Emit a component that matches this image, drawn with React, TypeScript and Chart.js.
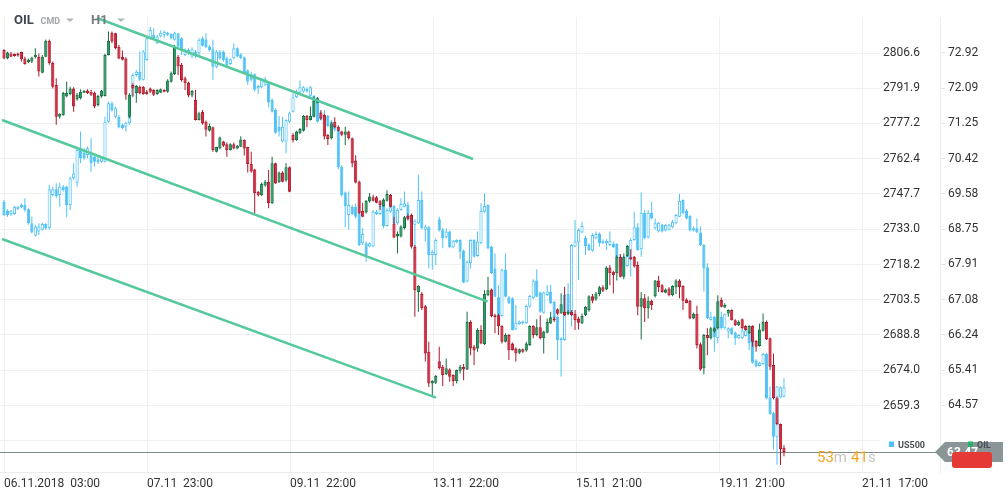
import React, { useEffect, useRef } from "react";
import { Chart, registerables } from "chart.js";

Chart.register(...registerables);

// ---------- OIL (H1 candles) ----------
const oilOpen = [
  72.99, 72.79, 72.91, 72.90, 72.91, 72.94, 72.79, 72.70, 72.72, 72.82,
  72.83, 72.45, 72.83, 73.21, 72.68, 72.16, 71.41, 71.45, 71.89, 71.95,
  72.08, 71.82, 71.85, 71.98, 72.03, 72.00, 71.98, 71.69, 71.89, 71.90,
  72.87, 73.40, 73.39, 73.07, 72.83, 72.79, 71.41, 72.16, 71.97, 72.12,
  72.12, 72.00, 72.08, 72.04, 71.95, 71.98, 72.04, 72.00, 72.24, 72.42,
  72.83, 72.64, 72.32, 72.22, 71.91, 71.81, 71.33, 71.53, 71.29, 71.08,
  71.16, 70.58, 70.66, 70.82, 70.76, 70.62, 70.76, 70.66, 70.70, 70.86,
  70.69, 70.29, 70.16, 69.63, 69.55, 69.78, 69.87, 69.36, 70.31, 69.86,
  70.09, 69.90, 70.21, 70.98, 70.86, 71.02, 71.08, 71.43, 71.33, 71.41,
  71.74, 71.51, 71.45, 70.98, 70.90, 71.29, 71.17, 71.06, 70.98, 71.06,
  70.90, 70.37, 69.87, 69.18, 69.14, 69.40, 69.50, 69.50, 69.41, 69.29,
  69.42, 69.56, 68.88, 68.57, 68.57, 68.77, 69.06, 69.08, 68.33, 67.26,
  67.21, 66.92, 65.84, 65.09, 65.11, 65.62, 65.49, 65.31, 65.42, 65.29,
  65.15, 65.39, 65.49, 65.42, 66.55, 65.96, 65.92, 66.36, 66.02, 67.18,
  67.32, 66.71, 66.71, 66.45, 66.08, 66.24, 66.04, 65.92, 65.82, 65.90,
  65.87, 66.00, 66.45, 66.24, 66.42, 66.16, 66.29, 66.51, 66.63, 66.85,
  66.75, 66.79, 66.74, 66.79, 66.74, 66.63, 66.51, 66.71, 66.83, 67.16,
  67.08, 67.21, 67.37, 67.32, 67.84, 67.74, 67.70, 68.09, 67.62, 68.11,
  68.08, 68.09, 67.90, 66.91, 67.11, 66.87, 67.05, 67.16, 67.53, 67.42,
  67.24, 67.34, 67.18, 67.37, 67.53, 67.40, 67.08, 67.05, 66.63, 66.74,
  66.02, 65.45, 66.24, 66.16, 66.32, 66.40, 67.07, 66.89, 66.75, 66.83,
  66.59, 66.47, 66.61, 66.45, 66.28, 66.45, 66.10, 65.98, 66.34, 66.55,
  66.16, 65.53, 64.74, 64.13, 63.57,
];
const oilHigh = [
  73.01, 72.95, 72.94, 72.91, 72.93, 72.95, 72.83, 72.79, 72.83, 73.03,
  72.91, 72.87, 73.24, 73.24, 72.72, 72.32, 71.49, 72.00, 72.24, 72.12,
  72.11, 71.97, 72.06, 72.04, 72.06, 72.04, 72.01, 71.93, 72.04, 72.90,
  73.43, 73.43, 73.40, 73.11, 72.98, 72.82, 71.97, 72.20, 72.16, 72.15,
  72.14, 72.04, 72.10, 72.06, 72.06, 72.08, 72.06, 72.30, 72.48, 73.11,
  72.87, 72.68, 72.36, 72.24, 72.04, 72.04, 71.53, 71.57, 71.32, 71.25,
  71.17, 70.70, 70.94, 70.84, 70.80, 70.78, 70.80, 70.74, 70.95, 70.87,
  70.70, 70.58, 70.18, 69.65, 69.85, 69.91, 70.15, 70.46, 70.32, 70.11,
  70.12, 70.31, 70.23, 71.02, 71.08, 71.14, 71.45, 71.45, 71.65, 71.89,
  71.87, 71.57, 71.48, 71.00, 71.29, 71.40, 71.21, 71.08, 71.17, 71.08,
  70.92, 70.50, 69.90, 69.37, 69.44, 69.60, 69.56, 69.53, 69.44, 69.48,
  69.67, 69.58, 69.04, 68.69, 68.84, 69.06, 69.11, 69.12, 68.37, 67.42,
  67.26, 66.95, 66.08, 65.17, 65.29, 65.96, 65.53, 65.68, 65.45, 65.31,
  65.42, 65.53, 65.55, 66.79, 66.59, 66.00, 66.40, 66.47, 67.30, 67.62,
  67.34, 66.74, 66.74, 66.47, 66.28, 66.26, 66.06, 65.95, 65.92, 65.92,
  66.08, 66.47, 66.47, 66.61, 66.71, 66.34, 66.63, 66.79, 66.67, 66.87,
  67.23, 67.38, 66.83, 66.83, 66.83, 66.67, 66.75, 66.92, 67.18, 67.21,
  67.26, 67.40, 67.42, 67.87, 67.90, 67.76, 68.13, 68.16, 68.17, 68.37,
  68.27, 68.11, 67.98, 67.26, 67.21, 67.15, 67.08, 67.54, 67.64, 67.45,
  67.34, 67.37, 67.42, 67.56, 67.56, 67.42, 67.11, 67.07, 66.77, 66.93,
  66.06, 66.26, 66.40, 66.43, 66.42, 67.18, 67.13, 66.99, 66.85, 66.85,
  66.61, 66.59, 66.63, 66.47, 66.47, 66.47, 66.12, 66.51, 66.75, 66.58,
  66.18, 65.80, 64.78, 64.14, 63.63,
];
const oilLow = [
  72.77, 72.77, 72.82, 72.83, 72.83, 72.72, 72.64, 72.68, 72.68, 72.79,
  72.36, 72.44, 72.82, 72.64, 72.08, 71.22, 71.37, 71.43, 71.87, 71.92,
  71.53, 71.79, 71.82, 71.97, 71.95, 71.90, 71.61, 71.65, 71.86, 71.89,
  72.86, 73.15, 73.01, 72.77, 72.74, 71.81, 71.37, 71.89, 71.74, 71.94,
  71.93, 71.93, 71.97, 71.90, 71.93, 71.97, 71.99, 71.98, 72.22, 72.40,
  72.40, 72.24, 72.04, 71.87, 71.87, 71.32, 71.32, 71.22, 70.94, 71.06,
  70.58, 70.56, 70.64, 70.69, 70.46, 70.61, 70.64, 70.64, 70.69, 70.49,
  70.09, 70.08, 69.12, 69.52, 69.53, 69.75, 69.24, 69.34, 69.82, 69.84,
  69.86, 69.87, 69.62, 70.80, 70.84, 71.00, 71.06, 71.16, 71.32, 71.40,
  71.73, 71.33, 70.87, 70.74, 70.87, 71.14, 71.06, 70.95, 70.74, 70.87,
  70.21, 69.83, 69.11, 69.03, 69.12, 69.37, 69.40, 69.36, 69.20, 69.28,
  69.40, 69.26, 68.53, 68.17, 68.55, 68.74, 68.95, 68.29, 66.67, 66.79,
  66.83, 65.61, 65.01, 64.78, 65.08, 65.42, 65.03, 65.29, 65.13, 65.03,
  65.09, 65.33, 65.17, 65.41, 65.76, 65.53, 65.84, 66.02, 66.00, 67.16,
  66.66, 66.28, 66.24, 66.04, 66.06, 65.65, 65.87, 65.61, 65.79, 65.82,
  65.84, 65.98, 66.16, 66.21, 66.13, 65.80, 66.28, 66.50, 66.55, 66.71,
  66.74, 66.69, 66.71, 66.69, 66.36, 66.37, 66.50, 66.69, 66.79, 66.99,
  67.05, 67.16, 67.26, 67.30, 67.42, 67.22, 67.53, 67.60, 67.56, 68.09,
  68.02, 67.84, 66.71, 66.13, 66.55, 66.63, 66.83, 67.13, 67.26, 67.24,
  67.23, 67.16, 67.16, 67.21, 67.11, 66.83, 66.99, 66.61, 66.61, 65.92,
  65.39, 65.31, 65.76, 66.13, 66.29, 66.37, 66.89, 66.87, 66.67, 66.58,
  66.45, 66.45, 66.37, 66.34, 66.26, 65.96, 65.84, 65.96, 66.32, 66.12,
  65.41, 64.71, 64.10, 63.16, 63.37,
];
const oilClose = [
  72.79, 72.93, 72.83, 72.85, 72.86, 72.77, 72.66, 72.76, 72.81, 72.87,
  72.48, 72.83, 73.21, 72.68, 72.12, 71.41, 71.48, 71.97, 71.97, 72.08,
  71.65, 71.93, 72.00, 72.02, 71.97, 71.93, 71.65, 71.90, 72.03, 72.87,
  73.21, 73.19, 73.03, 72.79, 72.76, 71.93, 71.93, 72.08, 72.14, 71.97,
  71.95, 71.95, 72.00, 71.93, 72.04, 72.06, 72.00, 72.27, 72.44, 73.07,
  72.60, 72.28, 72.20, 71.91, 72.02, 71.33, 71.49, 71.25, 71.10, 71.19,
  70.62, 70.69, 70.92, 70.72, 70.62, 70.76, 70.66, 70.72, 70.87, 70.66,
  70.29, 70.11, 69.60, 69.55, 69.82, 69.87, 69.36, 70.31, 69.83, 70.09,
  69.87, 70.21, 69.63, 70.86, 71.06, 71.12, 71.43, 71.33, 71.43, 71.79,
  71.85, 71.37, 70.94, 70.88, 71.25, 71.16, 71.08, 70.98, 71.06, 70.90,
  70.31, 69.85, 69.12, 69.04, 69.42, 69.52, 69.42, 69.37, 69.32, 69.45,
  69.58, 69.28, 68.55, 68.63, 68.81, 69.03, 68.98, 68.33, 67.30, 67.40,
  66.87, 65.80, 65.09, 65.15, 65.27, 65.45, 65.29, 65.45, 65.25, 65.15,
  65.41, 65.49, 65.42, 66.55, 65.92, 65.88, 66.36, 66.04, 67.21, 67.30,
  66.69, 66.66, 66.45, 66.08, 66.24, 65.88, 65.88, 65.80, 65.90, 65.84,
  66.04, 66.45, 66.24, 66.42, 66.16, 66.32, 66.55, 66.66, 66.58, 66.74,
  66.97, 66.71, 66.79, 66.71, 66.59, 66.53, 66.69, 66.91, 67.16, 67.05,
  67.22, 67.37, 67.29, 67.84, 67.70, 67.66, 68.09, 67.62, 68.09, 68.35,
  68.03, 67.86, 66.91, 67.11, 66.87, 67.05, 66.95, 67.53, 67.37, 67.26,
  67.32, 67.18, 67.40, 67.53, 67.37, 67.05, 67.00, 66.63, 66.74, 66.00,
  65.42, 66.24, 66.16, 66.40, 66.40, 67.04, 66.91, 66.95, 66.83, 66.59,
  66.47, 66.55, 66.40, 66.36, 66.45, 66.08, 65.96, 66.37, 66.55, 66.13,
  65.49, 64.74, 64.13, 63.53, 63.47,
];

// ---------- US500 (H1 candles) ----------
const usOpen = [
  2744.5, 2740.7, 2739.3, 2739.3, 2741.3, 2743.1, 2743.1, 2741.3, 2735.5, 2730.2,
  2732.0, 2732.7, 2735.2, 2733.4, 2747.3, 2749.7, 2747.3, 2750.8, 2750.8, 2743.1,
  2754.3, 2752.4, 2766.1, 2765.0, 2764.0, 2764.7, 2763.3, 2762.2, 2761.2, 2761.2,
  2777.9, 2785.6, 2780.0, 2780.0, 2776.5, 2775.8, 2777.2, 2788.4, 2797.4, 2798.8,
  2795.4, 2803.7, 2812.8, 2814.2, 2810.7, 2813.5, 2814.2, 2814.2, 2814.6, 2812.1,
  2814.9, 2812.8, 2805.8, 2806.5, 2805.1, 2807.2, 2806.5, 2812.8, 2812.3, 2809.3,
  2808.2, 2800.9, 2807.2, 2807.2, 2804.4, 2802.0, 2804.4, 2808.6, 2806.1, 2804.8,
  2799.3, 2797.7, 2797.7, 2791.9, 2792.3, 2793.3, 2794.0, 2787.0, 2782.8, 2775.8,
  2769.6, 2769.6, 2777.9, 2782.1, 2788.1, 2790.1, 2790.5, 2791.6, 2788.7, 2788.7,
  2787.7, 2778.9, 2778.6, 2780.3, 2775.2, 2776.5, 2774.5, 2759.1, 2748.3, 2738.9,
  2742.4, 2742.4, 2739.3, 2727.1, 2727.1, 2725.7, 2725.7, 2739.3, 2739.3, 2742.7,
  2734.3, 2740.3, 2742.7, 2735.5, 2741.0, 2742.4, 2743.1, 2738.5, 2734.8, 2735.5,
  2745.2, 2732.7, 2733.8, 2722.2, 2722.2, 2737.1, 2732.9, 2729.6, 2732.0, 2725.4,
  2727.5, 2728.5, 2724.0, 2711.1, 2718.7, 2728.5, 2721.8, 2727.1, 2740.3, 2743.1,
  2725.7, 2716.6, 2704.5, 2696.7, 2716.0, 2704.5, 2704.1, 2691.1, 2693.4, 2693.7,
  2693.7, 2700.6, 2704.1, 2711.5, 2706.5, 2698.1, 2705.5, 2706.9, 2702.7, 2696.4,
  2687.4, 2686.7, 2705.9, 2697.1, 2725.7, 2727.4, 2731.6, 2729.5, 2726.4, 2724.0,
  2729.2, 2731.0, 2727.1, 2727.1, 2726.4, 2726.8, 2726.8, 2717.3, 2721.2, 2717.6,
  2720.8, 2728.5, 2733.8, 2724.6, 2739.9, 2729.5, 2739.9, 2733.4, 2732.0, 2734.8,
  2732.4, 2732.7, 2733.8, 2735.5, 2738.2, 2745.2, 2740.7, 2738.5, 2732.4, 2733.4,
  2731.6, 2726.4, 2717.1, 2695.0, 2696.4, 2687.4, 2696.4, 2691.6, 2690.2, 2691.6,
  2689.8, 2687.4, 2687.4, 2688.4, 2690.2, 2688.1, 2678.1, 2675.8, 2676.7, 2680.8,
  2662.7, 2656.1, 2646.3, 2662.7, 2663.0,
];
const usHigh = [
  2745.2, 2741.3, 2741.0, 2742.7, 2742.7, 2743.8, 2745.9, 2741.7, 2738.2, 2734.8,
  2735.5, 2735.7, 2735.5, 2751.5, 2750.8, 2752.2, 2752.4, 2751.5, 2751.1, 2755.0,
  2760.5, 2766.8, 2773.8, 2766.8, 2767.5, 2771.0, 2764.0, 2763.3, 2763.3, 2780.0,
  2786.3, 2786.3, 2784.2, 2780.7, 2777.2, 2777.9, 2789.1, 2798.1, 2799.5, 2807.2,
  2807.9, 2813.5, 2817.6, 2816.9, 2814.2, 2816.0, 2816.0, 2815.5, 2814.9, 2815.5,
  2815.1, 2813.2, 2808.6, 2808.6, 2809.0, 2807.9, 2812.8, 2813.5, 2814.9, 2810.0,
  2812.1, 2807.9, 2807.9, 2807.6, 2805.1, 2804.4, 2810.7, 2809.0, 2806.5, 2805.1,
  2799.8, 2798.8, 2798.1, 2793.3, 2796.0, 2796.7, 2794.7, 2787.7, 2783.5, 2780.3,
  2780.0, 2778.9, 2782.1, 2790.1, 2791.2, 2795.1, 2792.8, 2792.3, 2792.8, 2789.1,
  2788.1, 2782.1, 2782.8, 2780.7, 2778.6, 2777.2, 2775.2, 2759.8, 2748.7, 2748.7,
  2743.1, 2743.8, 2743.8, 2733.4, 2727.8, 2727.4, 2741.0, 2741.0, 2743.1, 2743.1,
  2741.7, 2744.1, 2743.1, 2741.7, 2745.9, 2748.7, 2744.5, 2738.9, 2737.1, 2755.7,
  2748.7, 2734.8, 2734.3, 2724.3, 2729.2, 2738.2, 2733.4, 2733.4, 2732.4, 2728.5,
  2728.8, 2728.8, 2724.6, 2719.9, 2728.8, 2728.8, 2732.0, 2743.8, 2748.0, 2743.4,
  2726.0, 2722.9, 2709.7, 2716.6, 2722.9, 2705.1, 2704.5, 2701.3, 2694.8, 2694.8,
  2701.3, 2705.5, 2712.1, 2716.2, 2706.9, 2706.9, 2709.7, 2709.7, 2703.1, 2696.7,
  2687.8, 2705.9, 2710.4, 2726.8, 2736.8, 2733.4, 2736.1, 2730.2, 2727.1, 2731.3,
  2732.0, 2731.6, 2728.8, 2728.8, 2732.0, 2727.8, 2727.1, 2722.2, 2721.8, 2722.2,
  2729.2, 2740.3, 2735.5, 2748.3, 2741.0, 2741.0, 2744.5, 2737.5, 2736.1, 2735.2,
  2735.2, 2735.2, 2736.8, 2739.3, 2747.7, 2745.5, 2741.3, 2738.9, 2734.1, 2737.5,
  2734.1, 2726.8, 2718.7, 2698.5, 2696.7, 2694.8, 2698.5, 2697.8, 2692.0, 2692.0,
  2690.2, 2689.2, 2691.1, 2691.1, 2690.6, 2688.4, 2678.6, 2677.6, 2681.4, 2681.4,
  2667.2, 2656.7, 2667.5, 2667.2, 2670.7,
];
const usLow = [
  2738.5, 2738.2, 2738.5, 2738.9, 2741.0, 2741.7, 2740.3, 2734.8, 2731.3, 2729.9,
  2730.6, 2732.4, 2732.7, 2732.9, 2746.6, 2745.9, 2742.4, 2748.7, 2738.0, 2741.0,
  2753.6, 2750.8, 2760.5, 2761.9, 2762.6, 2757.0, 2759.1, 2760.2, 2760.8, 2760.8,
  2777.5, 2782.1, 2779.3, 2775.2, 2774.7, 2773.8, 2776.5, 2788.1, 2796.7, 2794.7,
  2795.1, 2803.4, 2812.3, 2812.1, 2810.4, 2813.2, 2812.8, 2813.7, 2812.3, 2811.8,
  2808.6, 2805.8, 2805.4, 2805.8, 2804.4, 2804.4, 2805.8, 2809.3, 2808.6, 2807.2,
  2795.4, 2800.2, 2803.7, 2803.0, 2800.2, 2801.6, 2804.0, 2804.8, 2804.0, 2797.9,
  2793.3, 2794.7, 2790.5, 2789.5, 2791.9, 2792.8, 2783.9, 2781.7, 2772.8, 2771.7,
  2769.2, 2764.7, 2777.5, 2781.7, 2787.7, 2789.8, 2790.1, 2790.1, 2788.1, 2779.8,
  2777.5, 2778.4, 2777.9, 2775.6, 2774.7, 2773.8, 2758.0, 2746.6, 2733.8, 2732.7,
  2738.9, 2737.5, 2726.0, 2726.4, 2719.4, 2725.4, 2725.4, 2738.9, 2738.9, 2733.4,
  2734.1, 2739.9, 2734.8, 2734.8, 2740.7, 2742.1, 2737.1, 2731.6, 2719.4, 2735.2,
  2732.9, 2727.8, 2716.6, 2716.0, 2718.0, 2732.0, 2725.0, 2729.2, 2725.0, 2725.0,
  2727.1, 2720.4, 2710.4, 2710.7, 2716.6, 2721.2, 2721.5, 2726.8, 2739.9, 2724.6,
  2714.3, 2704.5, 2696.2, 2696.4, 2704.5, 2701.7, 2690.6, 2690.9, 2693.0, 2693.2,
  2693.4, 2700.3, 2703.7, 2704.5, 2698.1, 2697.8, 2705.1, 2701.7, 2695.3, 2678.3,
  2671.4, 2686.4, 2697.1, 2692.3, 2725.4, 2711.8, 2731.3, 2722.2, 2724.0, 2723.6,
  2728.8, 2725.7, 2726.8, 2724.3, 2726.0, 2725.0, 2720.4, 2713.2, 2712.9, 2717.3,
  2713.2, 2728.2, 2724.0, 2721.5, 2728.8, 2729.0, 2737.1, 2732.9, 2731.6, 2731.6,
  2732.0, 2732.4, 2733.4, 2735.0, 2738.0, 2739.3, 2737.1, 2732.0, 2732.0, 2731.3,
  2726.0, 2706.9, 2695.3, 2694.8, 2681.8, 2685.3, 2691.1, 2691.1, 2687.4, 2688.8,
  2684.6, 2687.0, 2687.0, 2688.1, 2682.5, 2676.9, 2675.3, 2675.6, 2676.3, 2661.9,
  2655.4, 2641.0, 2634.5, 2662.3, 2662.7,
];
const usClose = [
  2738.9, 2738.9, 2740.7, 2742.4, 2742.4, 2742.1, 2741.0, 2735.5, 2731.6, 2734.1,
  2734.1, 2735.2, 2733.4, 2749.7, 2749.7, 2746.9, 2750.8, 2749.4, 2743.1, 2754.3,
  2756.3, 2766.1, 2762.6, 2762.6, 2766.8, 2760.5, 2761.2, 2761.1, 2762.6, 2777.9,
  2785.6, 2782.8, 2783.5, 2775.6, 2775.2, 2777.5, 2788.7, 2797.4, 2798.8, 2795.4,
  2807.2, 2812.8, 2816.2, 2812.8, 2813.5, 2815.1, 2815.5, 2815.1, 2812.8, 2814.9,
  2809.3, 2807.9, 2807.9, 2807.9, 2808.2, 2805.1, 2812.1, 2809.6, 2809.0, 2807.9,
  2800.9, 2807.2, 2804.4, 2803.7, 2801.6, 2804.0, 2808.6, 2805.1, 2804.4, 2798.1,
  2794.7, 2795.4, 2791.2, 2792.8, 2795.6, 2795.6, 2785.9, 2782.1, 2773.3, 2773.8,
  2775.8, 2778.6, 2781.4, 2788.1, 2790.5, 2792.3, 2792.3, 2790.5, 2792.3, 2780.0,
  2777.9, 2780.0, 2780.3, 2776.1, 2777.9, 2774.5, 2758.9, 2747.3, 2742.7, 2743.1,
  2739.3, 2738.2, 2726.4, 2731.0, 2722.2, 2727.1, 2740.3, 2740.3, 2742.7, 2734.3,
  2741.0, 2743.1, 2735.5, 2741.0, 2743.5, 2743.8, 2737.5, 2735.5, 2736.6, 2745.2,
  2733.4, 2734.1, 2722.2, 2723.6, 2728.5, 2732.4, 2729.2, 2732.0, 2725.4, 2728.2,
  2728.5, 2723.6, 2710.7, 2719.4, 2728.5, 2721.5, 2727.8, 2740.6, 2742.7, 2725.0,
  2714.6, 2704.8, 2696.4, 2716.0, 2704.8, 2702.0, 2690.9, 2693.9, 2694.4, 2694.4,
  2700.9, 2705.1, 2711.5, 2704.8, 2698.5, 2706.5, 2706.9, 2702.0, 2695.8, 2686.7,
  2686.7, 2705.5, 2697.6, 2726.4, 2727.8, 2732.7, 2734.3, 2726.0, 2724.3, 2730.6,
  2731.0, 2727.1, 2728.2, 2728.2, 2728.2, 2725.4, 2720.8, 2721.5, 2713.2, 2721.8,
  2728.5, 2733.8, 2724.3, 2739.9, 2729.2, 2739.9, 2737.5, 2735.5, 2735.7, 2732.0,
  2734.8, 2734.8, 2736.1, 2738.9, 2744.9, 2739.6, 2737.5, 2732.4, 2733.4, 2731.6,
  2726.4, 2716.6, 2695.8, 2696.4, 2687.8, 2694.4, 2691.6, 2697.6, 2691.6, 2689.2,
  2687.4, 2688.8, 2690.6, 2690.6, 2685.3, 2677.2, 2675.6, 2677.2, 2680.8, 2662.3,
  2655.8, 2646.3, 2667.2, 2666.9, 2666.9,
];

// ---------- axes ----------
const xTickIndex = [0, 41.07, 82.14, 123.21, 164.28, 205.35, 246.42];
const xTickLabels = ["06.11.2018  03:00", "07.11  23:00", "09.11  22:00", "13.11  22:00", "15.11  21:00", "19.11  21:00", "21.11  17:00"];
const usTicks = [2806.6, 2791.9, 2777.2, 2762.4, 2747.7, 2733.0, 2718.2, 2703.5, 2688.8, 2674.0, 2659.3, 2644.6];
const usTickLabels = ["2806.6", "2791.9", "2777.2", "2762.4", "2747.7", "2733.0", "2718.2", "2703.5", "2688.8", "2674.0", "2659.3", ""];
const oilTicks = [72.92, 72.09, 71.25, 70.42, 69.58, 68.75, 67.91, 67.08, 66.24, 65.41, 64.57];
const oilTickLabels = ["72.92", "72.09", "71.25", "70.42", "69.58", "68.75", "67.91", "67.08", "66.24", "65.41", "64.57"];

// ---------- trend channel (drawn on the OIL scale) ----------
const channelUpper = [{ x: 26.71, y: 73.749 }, { x: 134.69, y: 70.409 }];
const channelMiddle = [{ x: -0.57, y: 71.332 }, { x: 138.91, y: 67.028 }];
const channelLower = [{ x: -0.57, y: 68.514 }, { x: 124.07, y: 64.754 }];

const countdown = ["53", "m", "41", "s"];

const GREEN = "#25a062";
const GREEN_EDGE = "#176b41";
const RED = "#e3283e";
const RED_EDGE = "#a51b2c";
const BLUE = "#4fc1f4";
const CHANNEL = "#55c99b";
const GRID = "#f0f0f0";
const FONT = "Roboto";

export default function App() {
  const ref = useRef<HTMLCanvasElement>(null);

  useEffect(() => {
    const canvas = ref.current;
    if (!canvas) return;
    const n = oilClose.length;
    const idx = Array.from({ length: n }, (_, i) => i);
    const oilUp = (i: number) => oilClose[i] >= oilOpen[i];
    const usUp = (i: number) => usClose[i] >= usOpen[i];
    const last = oilClose[n - 1];

    const overlay = {
      id: "overlay",
      beforeDatasetsDraw(chart: any) {
        const ctx = chart.ctx;
        const y = Math.round(chart.scales.yOIL.getPixelForValue(last)) + 0.5;
        ctx.save();
        ctx.strokeStyle = "#7f8a8c";
        ctx.lineWidth = 1;
        ctx.beginPath();
        ctx.moveTo(chart.chartArea.left, y);
        ctx.lineTo(937, y);
        ctx.stroke();
        ctx.restore();
      },
      afterDraw(chart: any) {
        const ctx = chart.ctx;
        const y = Math.round(chart.scales.yOIL.getPixelForValue(last));
        ctx.save();
        // price tag
        ctx.fillStyle = "#8b9597";
        ctx.beginPath();
        ctx.moveTo(935, y);
        ctx.lineTo(945, y - 10);
        ctx.lineTo(1003, y - 10);
        ctx.lineTo(1003, y + 10);
        ctx.lineTo(945, y + 10);
        ctx.closePath();
        ctx.fill();
        ctx.fillStyle = "#ffffff";
        ctx.font = `bold 12px ${FONT}`;
        ctx.textAlign = "left";
        ctx.textBaseline = "middle";
        ctx.fillText(last.toFixed(2), 947, y + 1);
        ctx.fillStyle = "#e53935";
        ctx.beginPath();
        (ctx as any).roundRect(952, y, 40, 16, 3);
        ctx.fill();
        // legend
        ctx.textBaseline = "alphabetic";
        ctx.font = `bold 9px ${FONT}`;
        ctx.fillStyle = BLUE;
        ctx.fillRect(889, 441.5, 5, 5.5);
        ctx.fillStyle = "#4a5056";
        ctx.fillText("US500", 898, 448);
        ctx.fillStyle = "#26b06c";
        ctx.fillRect(968, 441.5, 5, 5.5);
        ctx.fillStyle = "#4a5056";
        ctx.fillText("OIL", 977, 448);
        // countdown
        ctx.font = `15px ${FONT}`;
        let cx = 817;
        countdown.forEach((t, k) => {
          ctx.fillStyle = k % 2 === 0 ? "#f5a623" : "#c4c4c4";
          ctx.fillText(t, cx, 462);
          cx += ctx.measureText(t).width + (k === 1 ? 4 : 0);
        });
        // header
        ctx.font = `bold 13px ${FONT}`;
        ctx.fillStyle = "#3d4650";
        ctx.fillText("OIL", 14, 24);
        ctx.font = `bold 9px ${FONT}`;
        ctx.fillStyle = "#a0a6ab";
        ctx.fillText("CMD", 40.5, 23.5);
        ctx.font = `bold 13px ${FONT}`;
        ctx.fillStyle = "#737b83";
        ctx.fillText("H1", 91, 24);
        ctx.fillStyle = "#b3b8bc";
        [66, 117].forEach((tx) => {
          ctx.beginPath();
          ctx.moveTo(tx, 18.5);
          ctx.lineTo(tx + 8, 18.5);
          ctx.lineTo(tx + 4, 22);
          ctx.closePath();
          ctx.fill();
        });
        ctx.restore();
      },
    };

    const bodyCommon = {
      xAxisID: "x",
      borderWidth: 1,
      borderSkipped: false,
      barThickness: 3.2,
      grouped: false,
      minBarLength: 1.5,
      inflateAmount: 0,
    };
    const wickCommon = {
      xAxisID: "x",
      borderWidth: 0,
      barThickness: 1,
      grouped: false,
      inflateAmount: 0,
    };
    const lineCommon = {
      type: "line" as const,
      xAxisID: "x",
      yAxisID: "yOIL",
      borderColor: CHANNEL,
      borderWidth: 2.5,
      pointRadius: 0,
      fill: false,
      tension: 0,
      order: 0,
    };

    const chart = new Chart(canvas, {
      type: "bar",
      data: {
        datasets: [
          { ...lineCommon, label: "upper", data: channelUpper },
          { ...lineCommon, label: "middle", data: channelMiddle },
          { ...lineCommon, label: "lower", data: channelLower },
          {
            ...bodyCommon,
            label: "OIL",
            yAxisID: "yOIL",
            order: 1,
            data: idx.map((i) => ({ x: i, y: [oilOpen[i], oilClose[i]] })),
            backgroundColor: (c: any) => (oilUp(c.dataIndex) ? GREEN : RED),
            borderColor: (c: any) => (oilUp(c.dataIndex) ? GREEN_EDGE : RED_EDGE),
          },
          {
            ...wickCommon,
            label: "OIL wick",
            yAxisID: "yOIL",
            order: 2,
            data: idx.map((i) => ({ x: i, y: [oilLow[i], oilHigh[i]] })),
            backgroundColor: (c: any) => (oilUp(c.dataIndex) ? GREEN_EDGE : RED_EDGE),
          },
          {
            ...bodyCommon,
            label: "US500",
            yAxisID: "yUS",
            order: 3,
            data: idx.map((i) => ({ x: i, y: [usOpen[i], usClose[i]] })),
            backgroundColor: (c: any) => (usUp(c.dataIndex) ? "#ffffff" : BLUE),
            borderColor: BLUE,
          },
          {
            ...wickCommon,
            label: "US500 wick",
            yAxisID: "yUS",
            order: 4,
            data: idx.map((i) => ({ x: i, y: [usLow[i], usHigh[i]] })),
            backgroundColor: BLUE,
          },
        ] as any,
      },
      options: {
        responsive: false,
        animation: false,
        devicePixelRatio: 1,
        events: [],
        layout: { padding: { top: 17, left: 0, right: 0, bottom: 0 } },
        plugins: { legend: { display: false }, tooltip: { enabled: false } },
        scales: {
          x: {
            type: "linear",
            min: -1.1488,
            max: 251.58,
            offset: false,
            grid: { color: GRID, drawTicks: false, offset: false },
            border: { display: true, color: "#ebebeb" },
            ticks: {
              align: "start",
              autoSkip: false,
              maxRotation: 0,
              padding: 5,
              color: "#333333",
              font: { family: FONT, size: 12 },
              callback: (_v: any, i: number) => xTickLabels[i],
            },
            afterBuildTicks: (s: any) => {
              s.ticks = xTickIndex.map((v) => ({ value: v }));
            },
            afterFit: (s: any) => {
              s.height = 28;
              s.paddingLeft = 0;
              s.paddingRight = 0;
            },
          },
          yUS: {
            type: "linear",
            axis: "y",
            position: "right",
            min: 2631.52,
            max: 2821.65,
            beginAtZero: false,
            grid: { color: GRID, drawTicks: false },
            border: { display: false },
            ticks: {
              padding: 3,
              color: "#333333",
              font: { family: FONT, size: 12 },
              callback: (_v: any, i: number) => usTickLabels[i],
            },
            afterBuildTicks: (s: any) => {
              s.ticks = usTicks.map((v) => ({ value: v }));
            },
            afterFit: (s: any) => {
              s.width = 60;
              s.paddingTop = 0;
              s.paddingBottom = 0;
            },
          },
          yOIL: {
            type: "linear",
            axis: "y",
            position: "right",
            min: 62.994,
            max: 73.772,
            beginAtZero: false,
            grid: { drawOnChartArea: false, drawTicks: true, tickLength: 5, color: "#e4e4e4" },
            border: { display: true, color: "#ececec" },
            ticks: {
              padding: 3,
              color: "#333333",
              font: { family: FONT, size: 12 },
              callback: (_v: any, i: number) => oilTickLabels[i],
            },
            afterBuildTicks: (s: any) => {
              s.ticks = oilTicks.map((v) => ({ value: v }));
            },
            afterFit: (s: any) => {
              s.width = 68;
              s.paddingTop = 0;
              s.paddingBottom = 0;
            },
          },
        },
      } as any,
      plugins: [overlay],
    });

    return () => chart.destroy();
  }, []);

  return (
    <div style={{ position: "absolute", left: 0, top: 0, width: 1008, height: 500, background: "#ffffff" }}>
      <canvas ref={ref} width={1008} height={500} style={{ display: "block", width: 1008, height: 500 }} />
    </div>
  );
}
